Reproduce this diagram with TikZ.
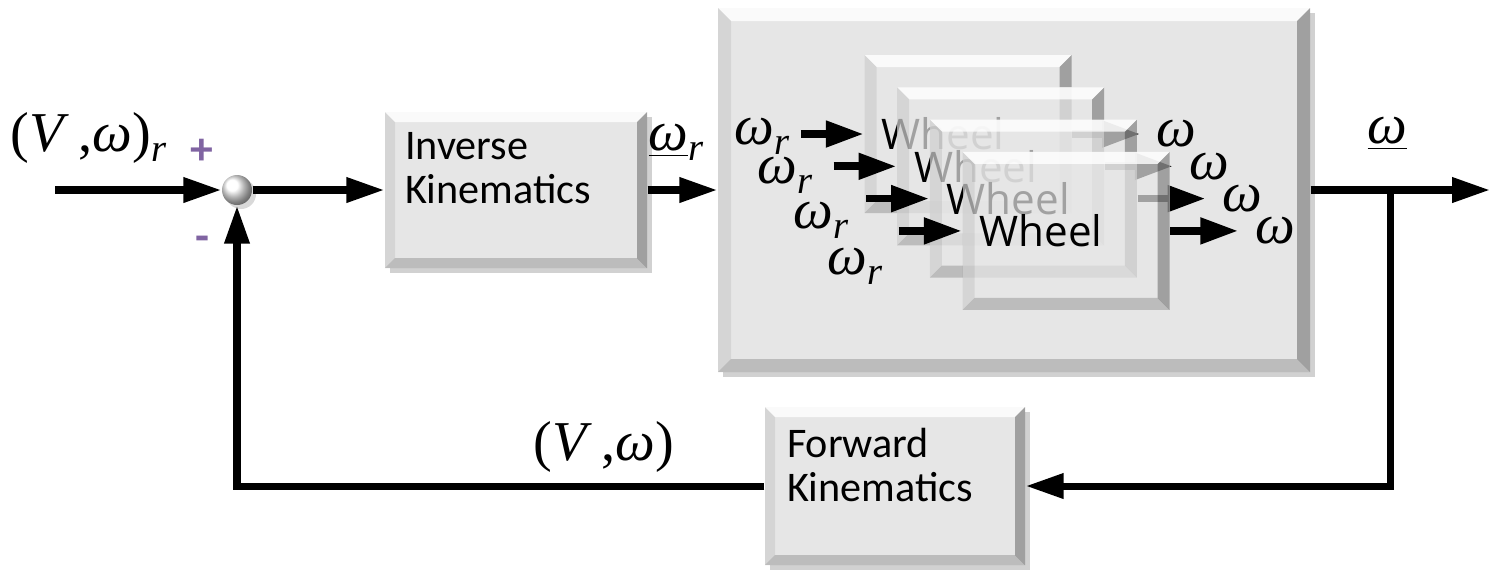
\documentclass[tikz,border=0pt]{standalone}
\usepackage{fontspec}
\setmainfont{Liberation Serif}
\newfontfamily\blockfont{Carlito}
\newfontfamily\wheelfont{Open Sans}
\usetikzlibrary{arrows.meta,positioning,calc,shadows}
\definecolor{blockgray}{RGB}{230,230,230}
\definecolor{signpurple}{RGB}{128,100,162}
\newcommand{\om}{\textit{ω}}
\newcommand{\rsub}{\raisebox{-3pt}{\fontsize{11}{13}\selectfont\textit{r}}}

\tikzset{
  bevel/.style={path picture={
    % light top edge
    \fill[white,opacity=.8] (path picture bounding box.north west) -- (path picture bounding box.north east)
      -- ([shift={(-#1,-#1)}]path picture bounding box.north east) -- ([shift={(#1,-#1)}]path picture bounding box.north west) -- cycle;
    % left edge
    \fill[black,opacity=.07] (path picture bounding box.north west) -- ([shift={(#1,-#1)}]path picture bounding box.north west)
      -- ([shift={(#1,#1)}]path picture bounding box.south west) -- (path picture bounding box.south west) -- cycle;
    % dark right edge
    \fill[black,opacity=.3] (path picture bounding box.north east) -- ([shift={(-#1,-#1)}]path picture bounding box.north east)
      -- ([shift={(-#1,#1)}]path picture bounding box.south east) -- (path picture bounding box.south east) -- cycle;
    % bottom edge
    \fill[black,opacity=.18] (path picture bounding box.south west) -- ([shift={(#1,#1)}]path picture bounding box.south west)
      -- ([shift={(-#1,#1)}]path picture bounding box.south east) -- (path picture bounding box.south east) -- cycle;
  }}
}

\begin{document}
\begin{tikzpicture}[
    x=0.1mm,y=-0.1mm,
    block/.style={fill=blockgray,bevel=1mm,minimum width=26.2mm,minimum height=15.6mm,inner sep=0,
      drop shadow={shadow xshift=0.5mm,shadow yshift=-0.5mm,fill=black,opacity=.18}},
    blocktext/.style={font=\blockfont\fontsize{12}{12.7}\selectfont,align=left,inner sep=0},
    wheelbox/.style={fill=blockgray,fill opacity=.7,bevel=1.2mm,minimum width=20.7mm,minimum height=15.8mm,inner sep=0},
    wheeltext/.style={font=\wheelfont\fontsize{12}{14}\selectfont,inner sep=0},
    sym/.style={font=\fontsize{16}{19}\selectfont,inner sep=0},
    sign/.style={font=\blockfont\bfseries\fontsize{13}{15}\selectfont,text=signpurple,inner sep=0},
    sig/.style={line width=2pt,-{Triangle[length=3.8mm,width=2.4mm]}},
    wsig/.style={line width=2.2pt,-{Triangle[length=3.8mm,width=2.5mm]}}
]
\useasboundingbox (0,0) rectangle (1494,570);

% summing junction
\node[circle,minimum size=3mm,inner sep=0,shading=ball,ball color=white,
  drop shadow={shadow xshift=0.4mm,shadow yshift=-0.4mm,opacity=.3}] (sum) at (237,190) {};
\coordinate (in) at (55,190);
\node[sym,anchor=base west] (ref) at (10,151) {(\textit{V}\,,\om)\rsub};
\node[sign] (plus) at (202,152) {+};
\node[sign] (minus) at (202,244) {-};

% inverse kinematics
\node[block] (ik) at (516,190) {};
\node[blocktext,anchor=north west] (iktext) at ([shift={(2mm,-2mm)}]ik.north west) {Inverse\\Kinematics};
\node[sym,anchor=base west] (wref) at (648,150) {\underline{\om}\rsub};

% wheels
\node[fill=blockgray,bevel=1.3mm,minimum width=59.2mm,minimum height=36.4mm,inner sep=0,
  drop shadow={shadow xshift=0.5mm,shadow yshift=-0.5mm,fill=black,opacity=.18}] (plant) at (1014,190) {};
\foreach \i/\lx/\ly in {0/790/144,1/813/183,2/849/228,3/883/274}{
  \node[wheelbox] (w\i) at ({968+32.7*\i},{134+32.3*\i}) {};
  \node[wheeltext,anchor=west] (wt\i) at ([xshift=1.7mm]w\i.west) {Wheel};
  \coordinate (win\i) at ([xshift=-6.3mm]w\i.west);
  \coordinate (wout\i) at ([xshift=6.8mm]w\i.east);
  \draw[wsig] (win\i) -- (w\i.west);
  \draw[wsig] (w\i.east) -- (wout\i);
  \node[sym,anchor=base east] (wr\i) at (\lx,\ly) {\om\rsub};
  \node[sym,anchor=west] (wo\i) at ([xshift=1.6mm]wout\i) {\om};
}

% forward kinematics
\node[block,minimum width=26mm,minimum height=15.8mm] (fk) at (895,486) {};
\node[blocktext,anchor=north west] (fktext) at ([shift={(2.2mm,-2.1mm)}]fk.north west) {Forward\\Kinematics};
\node[sym,anchor=base west] (fb) at (533,460) {(\textit{V}\,,\om)};

\coordinate (branch) at (1390,190);
\coordinate (out) at (1490,190);
\node[sym,anchor=base west] (wout) at (1367,143) {\underline{\om}};

\draw[sig] (in) -- (sum.west);
\draw[sig] (sum.east) -- (ik.west);
\draw[sig] (ik.east) -- (plant.west);
\draw[sig] (plant.east) -- (out);
\draw[sig] (branch) |- (fk.east);
\draw[sig] (fk.west) -| (sum.south);
\end{tikzpicture}
\end{document}
